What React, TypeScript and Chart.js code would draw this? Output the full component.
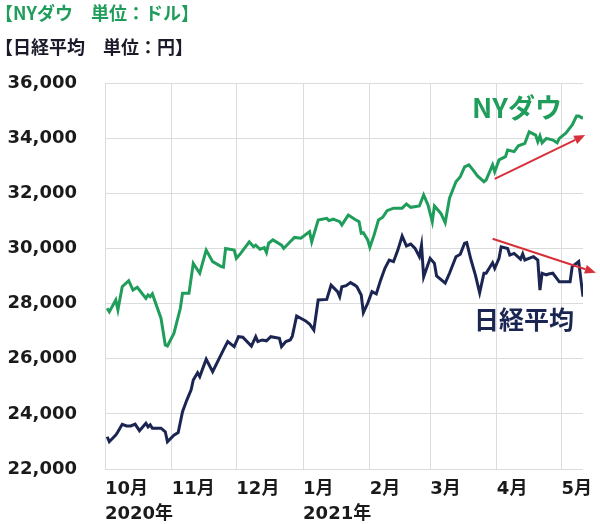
import React, { useEffect, useRef } from "react";
import { Chart, registerables } from "chart.js";

Chart.register(...registerables);

// Day index: 0 = 2020-10-01
const monthDays = [0, 31, 61, 92, 123, 151, 182, 212];
const monthLabels = ["10月", "11月", "12月", "1月", "2月", "3月", "4月", "5月"];
const yearLabels = ["2020年", "", "", "2021年", "", "", "", ""];

const yTicks = [22000, 24000, 26000, 28000, 30000, 32000, 34000, 36000];

const nyDays = [1,2,5,6,7,8,11,13,15,19,20,21,22,26,28,29,32,35,36,39,41,44,47,50,54,55,56,60,61,63,67,69,70,72,74,75,76,78,82,83,86,88,91,95,96,99,103,104,106,109,110,111,113,116,118,119,120,122,123,125,127,129,131,134,138,140,142,146,148,150,152,153,156,158,160,163,165,167,169,171,173,176,177,180,181,183,186,187,190,192,195,197,200,201,202,203,205,208,210,211,214,217,219,220,222];
const nyValues = [27830,27700,28130,27770,28190,28610,28830,28490,28590,28190,28310,28250,28350,27470,26500,26460,26920,27830,28370,28370,29460,29100,29940,29520,29340,29320,30000,29940,29640,29820,30240,30060,30120,29970,30030,29850,30190,30310,30120,30000,30240,30400,30370,30610,30240,31030,31090,31010,31060,30970,30850,30970,31210,31060,30970,30550,30570,30310,30040,30490,31030,31130,31370,31460,31460,31610,31490,31540,31940,31580,30970,31540,31270,30930,31820,32420,32600,32960,33030,32840,32630,32420,32480,33030,32780,33210,33330,33570,33510,33720,33810,34230,34110,33870,34080,33830,33990,33930,33830,33990,34180,34480,34800,34800,34720];

const nkDays = [1,2,5,6,8,10,12,14,16,19,20,21,22,26,28,29,32,34,36,38,40,41,43,44,47,50,55,57,60,62,64,68,70,71,73,75,77,81,82,84,86,87,89,93,95,97,99,103,105,108,109,110,112,114,116,117,119,120,122,124,126,128,130,132,134,136,138,140,142,144,146,147,148,151,153,154,158,160,163,165,167,168,170,172,174,176,177,180,181,183,184,187,188,190,193,194,195,199,201,202,203,205,206,208,211,216,217,220,222];
const nkValues = [23170,22990,23230,23350,23620,23560,23560,23630,23390,23660,23530,23600,23480,23480,23350,22990,23230,23320,24080,24500,24870,25230,25490,25350,25980,25530,26320,26620,26440,26800,26780,26460,26800,26620,26680,26650,26800,26740,26440,26620,26680,26820,27550,27380,27260,27040,28130,28150,28670,28430,28250,28610,28650,28760,28670,28610,28310,27670,28010,28430,28350,28850,29280,29580,29520,29940,30450,30090,30160,30000,29700,30120,28970,29640,29460,29000,28740,29100,29700,29790,30190,30210,29580,29040,28390,29100,29100,29480,29280,29640,30060,30000,29760,29820,29610,29800,29580,29700,29580,28490,29100,29040,29070,29100,28790,28790,29340,29520,28250];

// Trend arrows (day, value)
const nyTrendFrom = [181, 32520];
const nyTrendTo = [223, 34110];
const nkTrendFrom = [180, 30350];
const nkTrendTo = [228, 29120];

const GREEN = "#1f9d5a";
const NAVY = "#1b2552";
const RED = "#d8303a";
const GRID = "#dcdcdc";

const arrowPlugin = {
  id: "trendArrows",
  afterDatasetsDraw(chart: any) {
    const { ctx, scales } = chart;
    const xs = scales.x;
    const ys = scales.y;
    const arrows = [
      [nyTrendFrom, nyTrendTo],
      [nkTrendFrom, nkTrendTo],
    ];
    ctx.save();
    for (const [f, t] of arrows) {
      const x1 = xs.getPixelForValue(f[0]);
      const y1 = ys.getPixelForValue(f[1]);
      const x2 = xs.getPixelForValue(t[0]);
      const y2 = ys.getPixelForValue(t[1]);
      const ang = Math.atan2(y2 - y1, x2 - x1);
      const head = 11;
      const hw = 4.5;
      const bx = x2 - head * Math.cos(ang);
      const by = y2 - head * Math.sin(ang);
      ctx.strokeStyle = RED;
      ctx.fillStyle = RED;
      ctx.lineWidth = 2;
      ctx.beginPath();
      ctx.moveTo(x1, y1);
      ctx.lineTo(bx, by);
      ctx.stroke();
      ctx.beginPath();
      ctx.moveTo(x2, y2);
      ctx.lineTo(bx + hw * Math.sin(ang), by - hw * Math.cos(ang));
      ctx.lineTo(bx - hw * Math.sin(ang), by + hw * Math.cos(ang));
      ctx.closePath();
      ctx.fill();
    }
    ctx.restore();
  },
};

export default function App() {
  const ref = useRef<HTMLCanvasElement>(null);

  useEffect(() => {
    const chart = new Chart(ref.current as HTMLCanvasElement, {
      type: "line",
      data: {
        datasets: [
          {
            label: "NYダウ",
            data: nyDays.map((d, i) => ({ x: d, y: nyValues[i] })),
            borderColor: GREEN,
            borderWidth: 3,
            pointRadius: 0,
            tension: 0,
            fill: false,
          },
          {
            label: "日経平均",
            data: nkDays.map((d, i) => ({ x: d, y: nkValues[i] })),
            borderColor: NAVY,
            borderWidth: 3,
            pointRadius: 0,
            tension: 0,
            fill: false,
          },
        ],
      },
      options: {
        animation: false,
        responsive: true,
        maintainAspectRatio: false,
        layout: { padding: { top: 83, right: 17, bottom: 0, left: 0 } },
        plugins: {
          legend: { display: false },
          tooltip: { enabled: false },
          title: { display: false },
        },
        scales: {
          x: {
            type: "linear",
            min: 0,
            max: 222,
            border: { display: false },
            grid: { color: GRID, lineWidth: 1, drawTicks: false },
            afterBuildTicks: (scale: any) => {
              scale.ticks = monthDays.map((v) => ({ value: v }));
            },
            afterFit: (scale: any) => {
              scale.paddingLeft = 0;
              scale.paddingRight = 0;
              scale.height = 55;
            },
            ticks: {
              autoSkip: false,
              maxRotation: 0,
              minRotation: 0,
              align: "start",
              padding: 8,
              color: "#1a1a1a",
              font: {
                family: "'DejaVu Sans', 'Noto Sans CJK JP', sans-serif",
                weight: "bold",
                size: 18,
                lineHeight: 1.4,
              },
              callback: (value: any) => {
                const i = monthDays.indexOf(Number(value));
                if (i < 0) return "";
                return yearLabels[i] ? [monthLabels[i], yearLabels[i]] : monthLabels[i];
              },
            },
          },
          y: {
            type: "linear",
            min: yTicks[0],
            max: yTicks[yTicks.length - 1],
            border: { display: false },
            grid: { color: GRID, lineWidth: 1, drawTicks: false },
            afterBuildTicks: (scale: any) => {
              scale.ticks = yTicks.map((v) => ({ value: v }));
            },
            afterFit: (scale: any) => {
              scale.width = 105;
            },
            ticks: {
              padding: 28,
              color: "#1a1a1a",
              font: { family: "'DejaVu Sans', sans-serif", weight: "bold", size: 18 },
              callback: (value: any) => Number(value).toLocaleString("en-US"),
            },
          },
        },
      },
      plugins: [arrowPlugin],
    } as any);
    return () => chart.destroy();
  }, []);

  const cjk = "'Noto Sans CJK JP', 'DejaVu Sans', sans-serif";

  return (
    <div
      style={{
        position: "fixed",
        left: 0,
        top: 0,
        width: 600,
        height: 524,
        background: "#ffffff",
        overflow: "hidden",
      }}
    >
      <div style={{ position: "absolute", left: 0, top: 0, width: 600, height: 524 }}>
        <canvas ref={ref} />
      </div>
      <div
        style={{
          position: "absolute",
          left: -5,
          top: 2,
          fontFamily: cjk,
          fontWeight: 700,
          fontSize: 18,
          lineHeight: "20px",
          color: GREEN,
          whiteSpace: "nowrap",
        }}
      >
        【NYダウ　単位：ドル】
      </div>
      <div
        style={{
          position: "absolute",
          left: -5,
          top: 36,
          fontFamily: cjk,
          fontWeight: 700,
          fontSize: 18,
          lineHeight: "20px",
          color: "#1a1a2a",
          whiteSpace: "nowrap",
        }}
      >
        【日経平均　単位：円】
      </div>
      <div
        style={{
          position: "absolute",
          left: 472,
          top: 92,
          fontFamily: cjk,
          fontWeight: 700,
          fontSize: 27,
          lineHeight: "30px",
          color: GREEN,
          whiteSpace: "nowrap",
        }}
      >
        NYダウ
      </div>
      <div
        style={{
          position: "absolute",
          left: 474,
          top: 303,
          fontFamily: cjk,
          fontWeight: 700,
          fontSize: 25,
          lineHeight: "30px",
          color: NAVY,
          whiteSpace: "nowrap",
        }}
      >
        日経平均
      </div>
    </div>
  );
}
